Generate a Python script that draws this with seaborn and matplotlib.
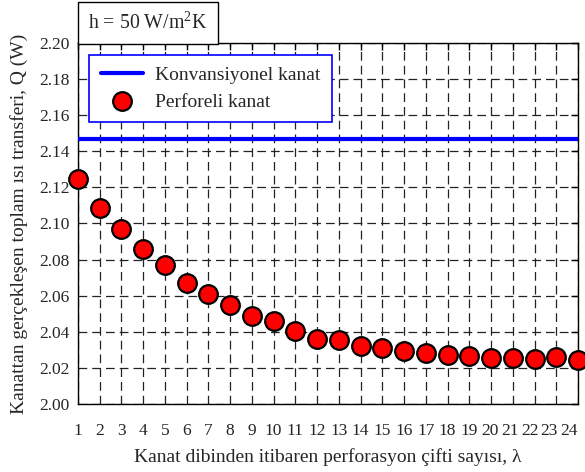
import numpy as np
import pandas as pd
import matplotlib
matplotlib.use("Agg")
import matplotlib.pyplot as plt
import matplotlib.transforms as mtransforms
import seaborn as sns

# Data: heat transfer vs. number of perforation pairs
perforation_pairs = list(range(1, 25))
perforated_q = [2.1244, 2.1087, 2.0968, 2.0857, 2.0772, 2.0672, 2.0607, 2.0550,
                2.0490, 2.0459, 2.0407, 2.0361, 2.0352, 2.0324, 2.0309, 2.0293,
                2.0282, 2.0269, 2.0268, 2.0257, 2.0256, 2.0250, 2.0259, 2.0246]
conventional_q = 2.1466
y_ticks = [2.00, 2.02, 2.04, 2.06, 2.08, 2.10, 2.12, 2.14, 2.16, 2.18, 2.20]

sns.set_theme(style="white")
plt.rcParams["font.family"] = ["Liberation Serif", "DejaVu Serif"]
plt.rcParams["mathtext.fontset"] = "custom"
plt.rcParams["mathtext.rm"] = "Liberation Serif"

df = pd.DataFrame({"lam": perforation_pairs, "q": perforated_q})

fig = plt.figure(figsize=(5.85, 4.72), dpi=100)
ax = fig.add_axes([0.1333, 0.1441, 0.8547, 0.7648])

ax.axhline(conventional_q, color="#0000ff", lw=3, label="Konvansiyonel kanat", zorder=3)
sns.scatterplot(data=df, x="lam", y="q", ax=ax, s=180, color="#ff0000",
                edgecolor="black", linewidth=1.6, zorder=4, clip_on=False,
                label="Perforeli kanat")

ax.set_xlim(1, 24)
ax.set_ylim(2.0, 2.2)
ax.set_xticks(perforation_pairs)
ax.set_yticks(y_ticks)
ax.set_yticklabels([f"{t:.2f}" for t in y_ticks])
ax.grid(True, color="#222222", linestyle=(0, (7, 4)), lw=0.9)
ax.tick_params(direction="in", top=True, right=True, length=5, width=1,
               labelsize=12.5, color="black")
ax.tick_params(axis="x", pad=14)
ax.tick_params(axis="y", pad=6)

# nudge the last few x labels progressively left so they stay inside the figure
nudges_pt = {-5: -1, -4: -2.2, -3: -3.5, -2: -5, -1: -6.5}
labels = ax.get_xticklabels()
for idx, dx in nudges_pt.items():
    lab = labels[idx]
    lab.set_transform(lab.get_transform() +
                      mtransforms.ScaledTranslation(dx / 72, 0, fig.dpi_scale_trans))

for s in ax.spines.values():
    s.set_color("black")
    s.set_linewidth(1)

ax.set_xlabel("Kanat dibinden itibaren perforasyon çifti sayısı, λ", fontsize=14, labelpad=6)
ax.set_ylabel("Kanattan gerçekleşen toplam ısı transferi, Q (W)", fontsize=14, labelpad=8)

leg = ax.legend(loc="upper left", bbox_to_anchor=(0.022, 0.967), borderaxespad=0,
                fontsize=14, frameon=True, fancybox=False, framealpha=1,
                borderpad=0.6, handlelength=2.2, handletextpad=0.6,
                labelspacing=0.45)
leg.get_frame().set_edgecolor("#0000ff")
leg.get_frame().set_linewidth(1.2)

fig.text(0.253, 0.952, r"h = 50 W/m$^2$K", fontsize=14.3, ha="center", va="center",
         bbox=dict(boxstyle="square,pad=0.5", fc="white", ec="black", lw=1))

fig.savefig("out.png", dpi=100)
